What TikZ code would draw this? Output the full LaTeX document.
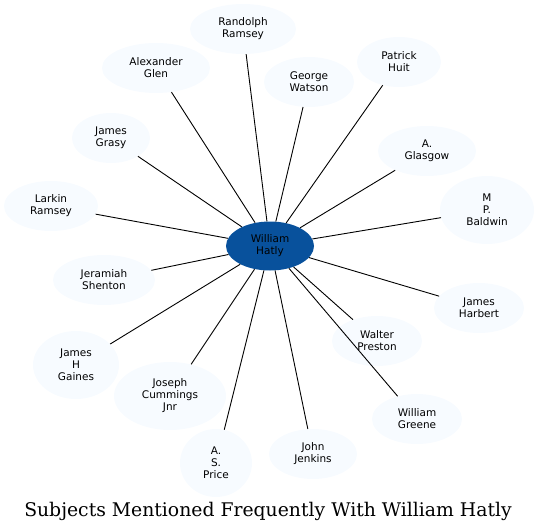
\documentclass[tikz,border=0pt]{standalone}
\usepackage{fontspec}
\setmainfont{DejaVu Serif}
\setsansfont{DejaVu Sans}
\usetikzlibrary{shapes.geometric}
\definecolor{palefill}{HTML}{F7FBFF}
\definecolor{hubblue}{HTML}{08519C}

\begin{document}
\begin{tikzpicture}[
  x=1pt, y=-1pt,
  person/.style={ellipse, fill=palefill, align=center, inner sep=0pt, minimum height=50pt, font=\sffamily\fontsize{10.5}{12}\selectfont},
  tall/.style={minimum height=68pt},
  hub/.style={person, fill=hubblue, minimum width=88pt, minimum height=49pt},
  link/.style={draw, line width=0.9pt}
]
\useasboundingbox (0,0) rectangle (538,532);

% centre
\node[hub] (hatly) at (270,246) {William\\Hatly};

% people round it
\node[person, minimum width=106pt] (randolph) at (243,29) {Randolph\\Ramsey};
\node[person, minimum width=108pt] (alexander) at (156,68) {Alexander\\Glen};
\node[person, minimum width=78pt] (grasy) at (111,138) {James\\Grasy};
\node[person, minimum width=94pt] (larkin) at (51,206) {Larkin\\Ramsey};
\node[person, minimum width=102pt] (jeramiah) at (104,280) {Jeramiah\\Shenton};
\node[person, tall, minimum width=86pt] (gaines) at (76,365) {James\\H\\Gaines};
\node[person, tall, minimum width=112pt] (cummings) at (170,396) {Joseph\\Cummings\\Jnr};
\node[person, tall, minimum width=72pt] (price) at (216,463) {A.\\S.\\Price};
\node[person, minimum width=88pt] (jenkins) at (313,454) {John\\Jenkins};
\node[person, minimum width=90pt] (greene) at (417,419) {William\\Greene};
\node[person, minimum width=90pt] (preston) at (377,341) {Walter\\Preston};
\node[person, minimum width=90pt] (harbert) at (479,308) {James\\Harbert};
\node[person, tall, minimum width=94pt] (baldwin) at (487,210) {M\\P.\\Baldwin};
\node[person, minimum width=98pt] (glasgow) at (427,151) {A.\\Glasgow};
\node[person, minimum width=84pt] (huit) at (399,62) {Patrick\\Huit};
\node[person, minimum width=90pt] (watson) at (309,82) {George\\Watson};

\foreach \who in {randolph,alexander,grasy,larkin,jeramiah,gaines,cummings,price,
                  jenkins,greene,preston,harbert,baldwin,glasgow,huit,watson}
  \draw[link] (hatly) -- (\who);

\node[anchor=base, inner sep=0pt, font=\fontsize{18.8}{22}\selectfont] (title) at (268,516)
  {Subjects Mentioned Frequently With William Hatly};
\end{tikzpicture}
\end{document}
